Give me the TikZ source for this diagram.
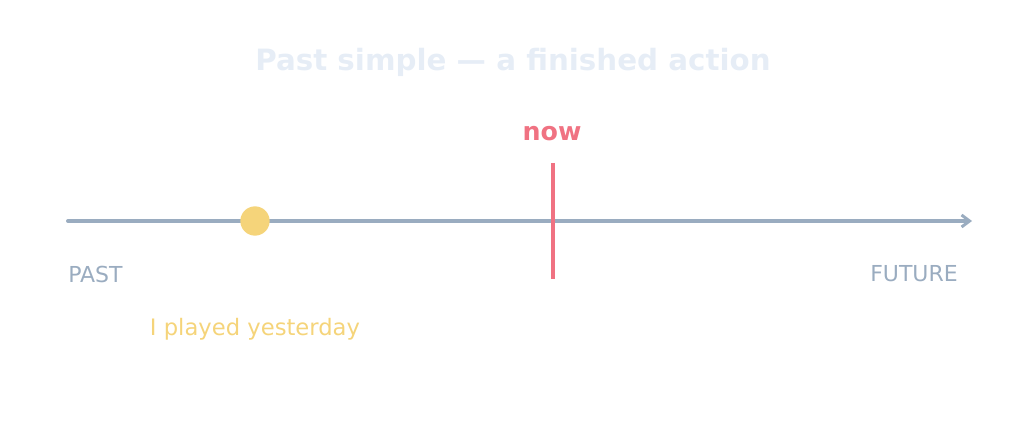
\documentclass[tikz,border=0pt]{standalone}
\usepackage{fontspec}
\setmainfont{DejaVu Sans}
\usetikzlibrary{arrows.meta}
\definecolor{axisgray}{HTML}{9AACC0}
\definecolor{nowred}{HTML}{F07282}
\definecolor{dotyellow}{HTML}{F5D47A}
\definecolor{titleblue}{HTML}{E6EDF6}
\tikzset{
  lbl/.style={inner sep=0pt, font=\fontsize{16.5}{18}\selectfont, text=axisgray},
}
\begin{document}
\begin{tikzpicture}[x=0.75pt,y=0.75pt,yscale=-1,xscale=1]
\useasboundingbox (0,0) rectangle (1026,441);

% Title
\node (title) at (513,62) [inner sep=0pt, font=\bfseries\fontsize{22}{26}\selectfont, text=titleblue] {Past simple — a finished action};

% Time axis
\coordinate (start) at (68,221);
\coordinate (end) at (972,221);
\draw [axisgray, line width=3pt, line cap=round, -{Straight Barb[length=6pt,width=9pt,line width=2.2pt]}] (start) -- (end);

% Now marker
\coordinate (nowtop) at (553,163);
\coordinate (nowbot) at (553,279);
\draw [nowred, line width=3pt] (nowtop) -- (nowbot);
\node (now) at (552,134) [inner sep=0pt, font=\bfseries\fontsize{19}{22}\selectfont, text=nowred] {now};

% Event
\node (event) at (255,221) [circle, fill=dotyellow, minimum size=22pt, inner sep=0pt] {};
\node (eventlbl) at (255,329) [inner sep=0pt, font=\fontsize{17}{20}\selectfont, text=dotyellow] {I played yesterday};

% Labels
\node (past) at (68,274) [lbl, anchor=west] {PAST};
\node (future) at (958,274) [lbl, anchor=east] {FUTURE};
\end{tikzpicture}
\end{document}
